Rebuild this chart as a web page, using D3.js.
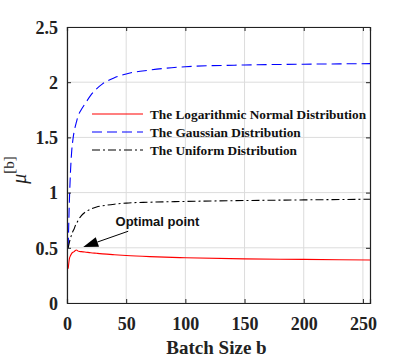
<!DOCTYPE html>
<html>
<head>
<meta charset="utf-8">
<script src="https://cdn.jsdelivr.net/npm/d3@7"></script>
<style>
  body { margin: 0; background: #fff; }
  svg { display: block; }
</style>
</head>
<body>
<svg id="chart" width="410" height="359"></svg>
<script>
// batch sizes sampled along the curves
var batchSizes = [1, 2, 3, 4, 5, 6, 7, 8, 9, 10, 12, 15, 20, 25, 30, 40, 50, 70, 100, 150, 200, 256];
// mu^[b]
var logNormal = [0.31, 0.40, 0.43, 0.45, 0.46, 0.465, 0.475, 0.48, 0.472, 0.468, 0.465, 0.462, 0.455, 0.45, 0.445, 0.437, 0.43, 0.42, 0.41, 0.40, 0.395, 0.39];
var gaussian  = [0.5, 0.92, 1.2, 1.38, 1.48, 1.55, 1.6, 1.64, 1.68, 1.71, 1.75, 1.8, 1.88, 1.94, 1.985, 2.04, 2.075, 2.11, 2.14, 2.156, 2.163, 2.168];
var uniform   = [0.5, 0.55, 0.59, 0.62, 0.65, 0.67, 0.7, 0.72, 0.74, 0.76, 0.79, 0.82, 0.85, 0.87, 0.88, 0.895, 0.905, 0.913, 0.92, 0.928, 0.934, 0.94];
var seriesNames = ["The Logarithmic Normal Distribution", "The Gaussian Distribution", "The Uniform Distribution"];
var xTicks = [0, 50, 100, 150, 200, 250];
var yTicks = [0, 0.5, 1, 1.5, 2, 2.5];
// annotation anchor (data units): arrow tip, arrow tail, label
var optimalTip = [13.7, 0.507], optimalTail = [51.7, 0.65], optimalLabel = [41, 0.695];

var margin = {left: 67, top: 27, right: 40, bottom: 56};
var width = 410 - margin.left - margin.right;
var height = 359 - margin.top - margin.bottom;

var svg = d3.select("#chart");
var g = svg.append("g").attr("transform", "translate(" + margin.left + "," + margin.top + ")");

var x = d3.scaleLinear().domain([0, 256]).range([0, width]);
var y = d3.scaleLinear().domain([0, 2.5]).range([height, 0]);

// grid
g.append("g").selectAll("line").data(xTicks).enter().append("line")
    .attr("x1", d => x(d)).attr("x2", d => x(d))
    .attr("y1", 0).attr("y2", height)
    .attr("stroke", "#dcdcdc").attr("stroke-width", 1);
g.append("g").selectAll("line").data(yTicks).enter().append("line")
    .attr("y1", d => y(d)).attr("y2", d => y(d))
    .attr("x1", 0).attr("x2", width)
    .attr("stroke", "#dcdcdc").attr("stroke-width", 1);

// curves
var line = function(vals) {
    return d3.line()
        .x((d, i) => x(batchSizes[i]))
        .y(d => y(d))
        .curve(d3.curveMonotoneX)(vals);
};
var styles = [
    {data: logNormal, color: "#ff0000", dash: null},
    {data: gaussian, color: "#0000ff", dash: "10,5"},
    {data: uniform, color: "#000000", dash: "8,3,2,3"}
];
styles.forEach(function(s) {
    g.append("path")
        .attr("d", line(s.data))
        .attr("fill", "none")
        .attr("stroke", s.color)
        .attr("stroke-width", 1.1)
        .attr("stroke-dasharray", s.dash);
});

// axes (box with inward ticks)
var fmt = d3.format("~g");
var axisFont = "bold 18px 'Liberation Serif', 'Times New Roman', serif";
var xb = g.append("g").attr("transform", "translate(0," + height + ")")
    .call(d3.axisBottom(x).tickValues(xTicks).tickSize(-4).tickPadding(10).tickFormat(fmt));
var yl = g.append("g")
    .call(d3.axisLeft(y).tickValues(yTicks).tickSize(-4).tickPadding(9).tickFormat(fmt));
g.append("g").call(d3.axisTop(x).tickValues(xTicks).tickSize(-4).tickFormat(""));
g.append("g").attr("transform", "translate(" + width + ",0)")
    .call(d3.axisRight(y).tickValues(yTicks).tickSize(-4).tickFormat(""));
g.selectAll(".domain").attr("stroke", "#222").attr("stroke-width", 1.2);
g.selectAll(".tick line").attr("stroke", "#222");
g.selectAll(".tick text").style("font", axisFont).attr("fill", "#222");
xb.selectAll(".tick text").attr("dy", "0.95em");
yl.selectAll(".tick text").attr("dy", "0.35em");

// axis labels
svg.append("text")
    .attr("x", margin.left + x(128) - 2).attr("y", 354)
    .attr("text-anchor", "middle")
    .style("font", "bold 19px 'Liberation Serif', 'Times New Roman', serif").attr("fill", "#222")
    .text("Batch Size b");
var yLab = svg.append("text")
    .attr("transform", "translate(26,170) rotate(-90)")
    .attr("text-anchor", "middle")
    .style("font-family", "'Liberation Serif', 'Times New Roman', serif")
    .attr("fill", "#222");
yLab.append("tspan").style("font-style", "italic").style("font-size", "20px").text("\u03bc");
yLab.append("tspan").attr("dy", -12).style("font-size", "15px").text("[b]");

// legend
var legend = g.append("g").attr("transform", "translate(25,87)");
styles.forEach(function(s, i) {
    legend.append("line")
        .attr("x1", 0).attr("x2", 51)
        .attr("y1", i * 18).attr("y2", i * 18)
        .attr("stroke", s.color).attr("stroke-width", 1.1)
        .attr("stroke-dasharray", s.dash);
    legend.append("text")
        .attr("x", 58).attr("y", i * 18 + 4.5)
        .style("font", "bold 13.3px 'Liberation Serif', 'Times New Roman', serif")
        .attr("fill", "#111")
        .text(seriesNames[i]);
});

// optimal point annotation
var tx = x(optimalTip[0]), ty = y(optimalTip[1]);
var sx = x(optimalTail[0]), sy = y(optimalTail[1]);
var ang = Math.atan2(sy - ty, sx - tx);
var headLen = 15, headW = 5;
var bx = tx + headLen * Math.cos(ang), by = ty + headLen * Math.sin(ang);
g.append("line")
    .attr("x1", sx).attr("y1", sy).attr("x2", bx).attr("y2", by)
    .attr("stroke", "#000").attr("stroke-width", 1);
g.append("path")
    .attr("d", "M" + tx + "," + ty +
        "L" + (bx + headW * Math.sin(ang)) + "," + (by - headW * Math.cos(ang)) +
        "L" + (bx - headW * Math.sin(ang)) + "," + (by + headW * Math.cos(ang)) + "Z")
    .attr("fill", "#000");
g.append("text")
    .attr("x", x(optimalLabel[0])).attr("y", y(optimalLabel[1]))
    .style("font", "bold 13px 'Liberation Sans', Arial, sans-serif")
    .attr("fill", "#111")
    .text("Optimal point");
</script>
</body>
</html>
